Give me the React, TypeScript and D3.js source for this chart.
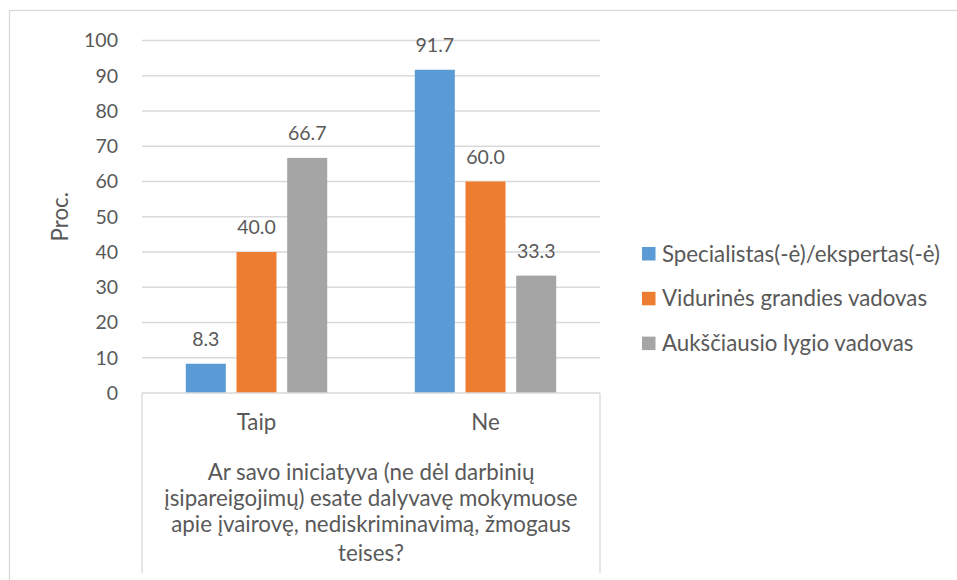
import React from "react";
import * as d3 from "d3";

// Survey answers and respondent groups
const categories = ["Taip", "Ne"];
const seriesNames = [
  "Specialistas(-ė)/ekspertas(-ė)",
  "Vidurinės grandies vadovas",
  "Aukščiausio lygio vadovas",
];
const seriesColors = ["#5B9BD5", "#ED7D31", "#A5A5A5"];
// values[series][category]
const specialistValues = [8.3, 91.7];
const middleManagerValues = [40.0, 60.0];
const topManagerValues = [66.7, 33.3];
const yTicks = [0, 10, 20, 30, 40, 50, 60, 70, 80, 90, 100];
const yAxisTitle = "Proc.";
const xAxisTitleLines = [
  "Ar savo iniciatyva (ne dėl darbinių",
  "įsipareigojimų) esate dalyvavę mokymuose",
  "apie įvairovę, nediskriminavimą, žmogaus",
  "teises?",
];

const W = 957;
const H = 580;
const FONT = "Lato, 'Open Sans', sans-serif";
const TEXT = "#595959";
const GRID = "#D9D9D9";

export default function App() {
  const values = [specialistValues, middleManagerValues, topManagerValues];

  const plotLeft = 142;
  const plotRight = 600;
  const plotTop = 40.5;
  const plotBottom = 393;

  const y = d3.scaleLinear().domain([0, 100]).range([plotBottom, plotTop]);
  const x = d3
    .scaleBand<string>()
    .domain(categories)
    .range([plotLeft, plotRight])
    .paddingInner(0)
    .paddingOuter(0);
  const inner = d3
    .scaleBand<string>()
    .domain(seriesNames)
    .range([0, x.bandwidth()])
    .paddingInner(0.211)
    .paddingOuter(0.864);

  const numSize = 19.5; // numbers
  const wordSize = 22.3; // words
  const axisTitleCenterX = (plotLeft + plotRight) / 2;
  const titleLineY = (i: number) =>
    480 + i * 26 + (i === xAxisTitleLines.length - 1 ? 3 : 0);

  return (
    <svg
      width={W}
      height={H}
      style={{ position: "absolute", left: 0, top: 0, background: "#fff" }}
      fontFamily={FONT}
    >
      {/* chart frame */}
      <rect x={9.5} y={10.5} width={980} height={620} fill="#fff" stroke={GRID} strokeWidth={1.3} />

      {/* gridlines */}
      {yTicks
        .filter((t) => t !== 0)
        .map((t) => (
          <line key={t} x1={plotLeft} x2={plotRight} y1={y(t)} y2={y(t)} stroke={GRID} strokeWidth={1.3} />
        ))}

      {/* y tick labels */}
      {yTicks.map((t) => (
        <text
          key={t}
          x={118}
          y={y(t)}
          dy="0.35em"
          textAnchor="end"
          fontSize={numSize}
          fill={TEXT}
        >
          {t}
        </text>
      ))}

      {/* y axis title */}
      <text
        transform={`translate(68, ${(plotTop + plotBottom) / 2}) rotate(-90)`}
        textAnchor="middle"
        fontSize={wordSize}
        fill={TEXT}
      >
        {yAxisTitle}
      </text>

      {/* bars and value labels */}
      {categories.map((c, ci) => (
        <g key={c} transform={`translate(${x(c)},0)`}>
          {seriesNames.map((s, si) => {
            const v = values[si][ci];
            const bx = inner(s) as number;
            return (
              <g key={s}>
                <rect
                  x={bx}
                  y={y(v)}
                  width={inner.bandwidth()}
                  height={y(0) - y(v)}
                  fill={seriesColors[si]}
                />
                <text
                  x={bx + inner.bandwidth() / 2}
                  y={y(v) - 18}
                  textAnchor="middle"
                  fontSize={numSize}
                  fill={TEXT}
                >
                  {v.toFixed(1)}
                </text>
              </g>
            );
          })}
        </g>
      ))}

      {/* category axis */}
      <line x1={plotLeft} x2={plotRight} y1={plotBottom} y2={plotBottom} stroke={GRID} strokeWidth={1.3} />
      <line x1={plotLeft} x2={plotLeft} y1={plotBottom} y2={573} stroke={GRID} strokeWidth={1.3} />
      <line x1={plotRight} x2={plotRight} y1={plotBottom} y2={573} stroke={GRID} strokeWidth={1.3} />
      {categories.map((c) => (
        <text
          key={c}
          x={(x(c) as number) + x.bandwidth() / 2}
          y={430}
          textAnchor="middle"
          fontSize={wordSize}
          fill={TEXT}
        >
          {c}
        </text>
      ))}
      {xAxisTitleLines.map((line, i) => (
        <text
          key={i}
          x={axisTitleCenterX}
          y={titleLineY(i)}
          textAnchor="middle"
          fontSize={wordSize}
          fill={TEXT}
        >
          {line}
        </text>
      ))}

      {/* legend */}
      {seriesNames.map((s, i) => (
        <g key={s} transform={`translate(642, ${247 + i * 44.8})`}>
          <rect width={13.5} height={13.5} fill={seriesColors[i]} />
          <text x={20} y={6.75} dy="0.35em" fontSize={wordSize} fill={TEXT}>
            {s}
          </text>
        </g>
      ))}
    </svg>
  );
}
